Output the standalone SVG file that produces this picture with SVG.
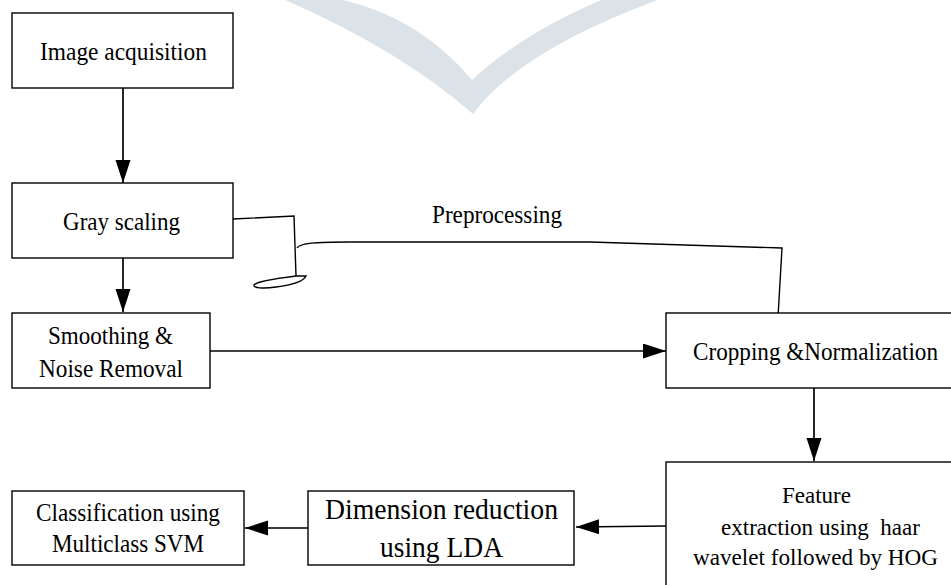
<svg xmlns="http://www.w3.org/2000/svg" width="951" height="585" viewBox="0 0 951 585">
  <style>
    .box { fill: #ffffff; stroke: #000000; stroke-width: 1.4; }
    .lbl { font-family: "Liberation Serif", "Times New Roman", serif; fill: #000000; text-anchor: middle; }
    .conn { fill: none; stroke: #000000; stroke-width: 1.7; }
    .thin { fill: none; stroke: #000000; stroke-width: 1.4; }
  </style>
  <defs>
    <marker id="arrow" markerUnits="userSpaceOnUse" markerWidth="24" markerHeight="16" refX="23" refY="7.5" orient="auto">
      <path d="M0,0 L23,7.5 L0,15 z" fill="#000000"/>
    </marker>
  </defs>

  <rect width="951" height="585" fill="#ffffff"/>

  <!-- faint chevron mark at the top -->
  <path d="M285,0 Q400,50 473,114 Q520,50 663,-2 L601,0 Q520,35 472,80 Q420,18 343,0 Z" fill="#dce3e8"/>

  <g id="connectors">
    <line class="conn" x1="123" y1="88" x2="123" y2="183" marker-end="url(#arrow)"/>
    <line class="conn" x1="123" y1="258" x2="123" y2="312" marker-end="url(#arrow)"/>
    <line class="conn" x1="210" y1="351" x2="666" y2="351" marker-end="url(#arrow)"/>
    <line class="conn" x1="814" y1="388" x2="814" y2="461" marker-end="url(#arrow)"/>
    <line class="conn" x1="666" y1="526" x2="576" y2="527" marker-end="url(#arrow)"/>
    <line class="conn" x1="308" y1="528" x2="245" y2="528" marker-end="url(#arrow)"/>
    <!-- bracket grouping the preprocessing steps -->
    <path class="thin" d="M233,219 L294,216 L296,276 C300,276 304,276 306,276 C303,282 292,285 276,287 C263,289 253,288 254,285 C256,282 272,279 296,276"/>
    <path class="thin" d="M297,248 C300,243 315,242 350,242 L590,242 L782,248 L778,317"/>
  </g>

  <g id="image-acquisition">
    <rect class="box" x="12" y="13" width="221" height="75"/>
    <text class="lbl" x="123.5" y="60" font-size="25" textLength="167" lengthAdjust="spacingAndGlyphs">Image acquisition</text>
  </g>

  <g id="gray-scaling">
    <rect class="box" x="12" y="183" width="221" height="75"/>
    <text class="lbl" x="121.5" y="230" font-size="25" textLength="117" lengthAdjust="spacingAndGlyphs">Gray scaling</text>
  </g>

  <g id="smoothing">
    <rect class="box" x="12" y="313" width="198" height="75"/>
    <text class="lbl" x="110.5" y="344" font-size="25" textLength="125" lengthAdjust="spacingAndGlyphs">Smoothing &amp;</text>
    <text class="lbl" x="111" y="377" font-size="25" textLength="144" lengthAdjust="spacingAndGlyphs">Noise Removal</text>
  </g>

  <g id="preprocessing-label">
    <text class="lbl" x="497" y="223" font-size="25" textLength="130" lengthAdjust="spacingAndGlyphs">Preprocessing</text>
  </g>

  <g id="cropping">
    <rect class="box" x="666" y="313" width="286" height="75"/>
    <text class="lbl" x="815.5" y="360" font-size="25" textLength="245" lengthAdjust="spacingAndGlyphs">Cropping &amp;Normalization</text>
  </g>

  <g id="feature-extraction">
    <rect class="box" x="666" y="462" width="286" height="140"/>
    <text class="lbl" x="816.5" y="503" font-size="24" textLength="69" lengthAdjust="spacingAndGlyphs">Feature</text>
    <text class="lbl" x="820.5" y="535" font-size="24" textLength="199" lengthAdjust="spacingAndGlyphs" xml:space="preserve">extraction using  haar</text>
    <text class="lbl" x="815.5" y="565" font-size="24" textLength="245" lengthAdjust="spacingAndGlyphs">wavelet followed by HOG</text>
  </g>

  <g id="dimension-reduction">
    <rect class="box" x="308" y="491" width="266" height="74"/>
    <text class="lbl" x="441.5" y="519" font-size="29" textLength="233" lengthAdjust="spacingAndGlyphs">Dimension reduction</text>
    <text class="lbl" x="441.5" y="557" font-size="29" textLength="123" lengthAdjust="spacingAndGlyphs">using LDA</text>
  </g>

  <g id="classification">
    <rect class="box" x="12" y="491" width="232" height="74"/>
    <text class="lbl" x="128" y="521" font-size="25" textLength="184" lengthAdjust="spacingAndGlyphs">Classification using</text>
    <text class="lbl" x="128" y="552" font-size="25" textLength="152" lengthAdjust="spacingAndGlyphs">Multiclass SVM</text>
  </g>
</svg>
